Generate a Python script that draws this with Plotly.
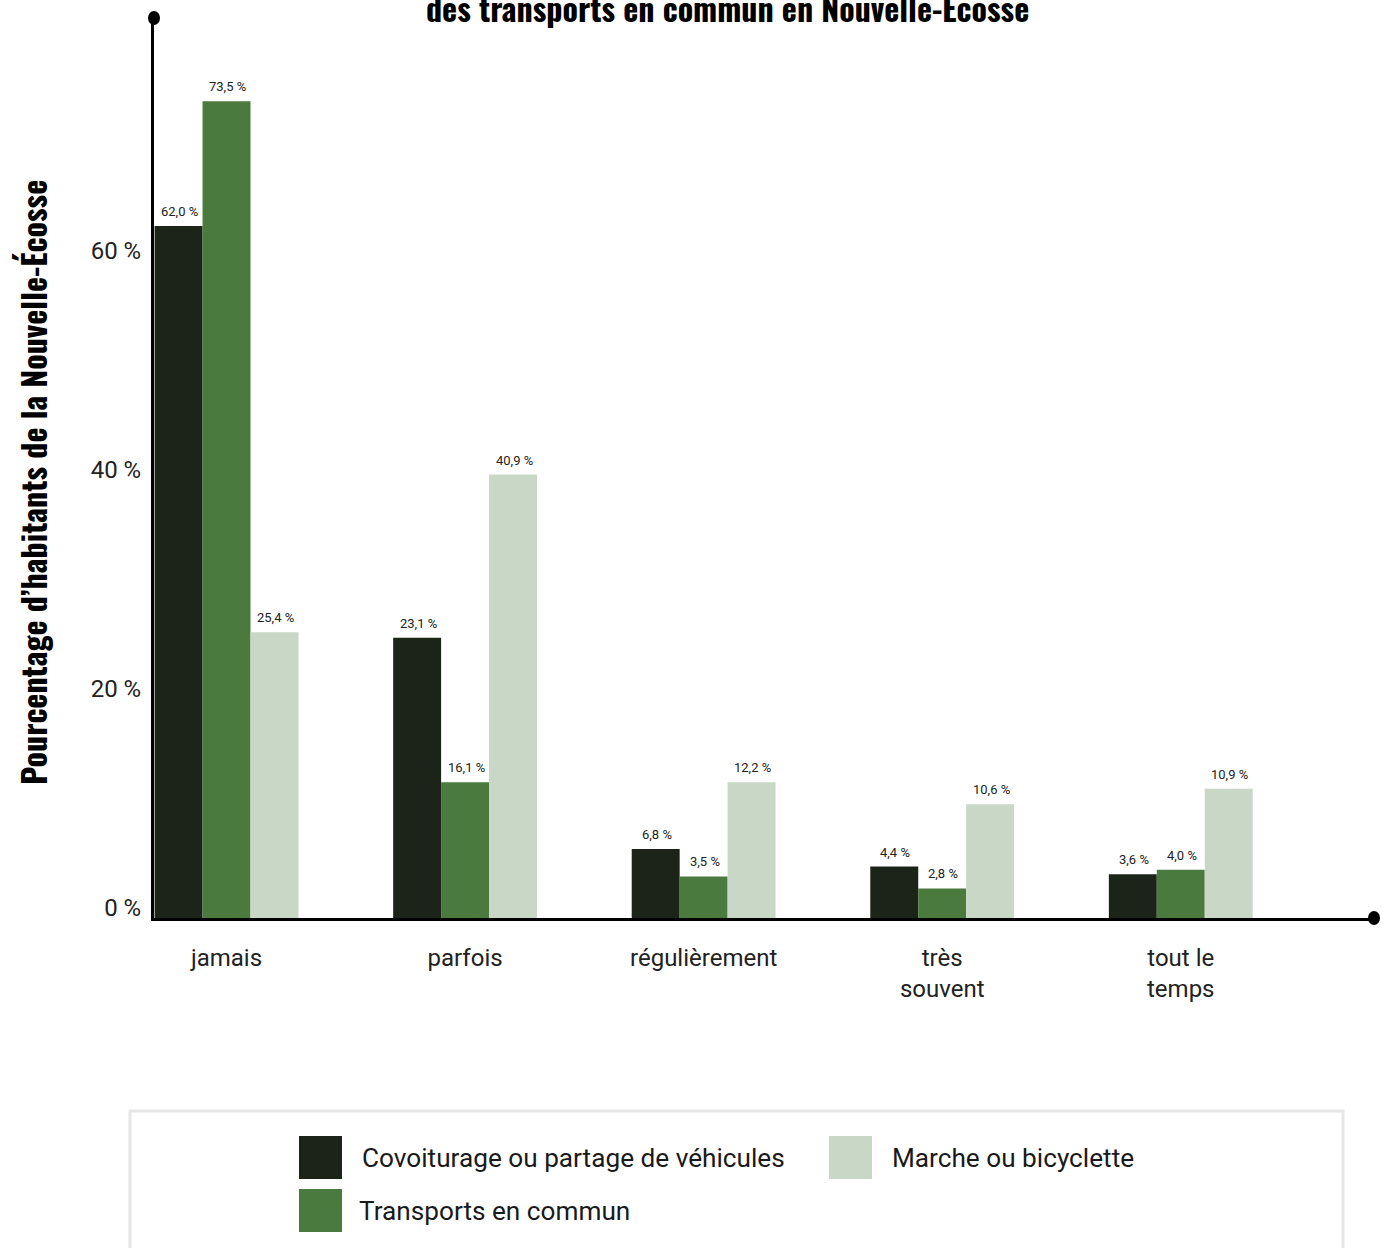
import plotly.graph_objects as go

# ---------------- data ----------------
categories = ["jamais", "parfois", "régulièrement", "très<br>souvent", "tout le<br>temps"]
series_names = ["Covoiturage ou partage de véhicules", "Transports en commun", "Marche ou bicyclette"]
colors = ["#1c2419", "#4a7a3e", "#c8d7c6"]

# bar heights as drawn in the picture (%)
covoiturage = [63.2, 25.6, 6.3, 4.7, 4.0]
transports = [74.6, 12.4, 3.8, 2.7, 4.4]
marche = [26.1, 40.5, 12.4, 10.4, 11.8]

# value labels printed above bars
covoiturage_labels = ["62,0 %", "23,1 %", "6,8 %", "4,4 %", "3,6 %"]
transports_labels = ["73,5 %", "16,1 %", "3,5 %", "2,8 %", "4,0 %"]
marche_labels = ["25,4 %", "40,9 %", "12,2 %", "10,6 %", "10,9 %"]

y_ticks = [0, 20, 40, 60]
y_tick_labels = ["0 %", "20 %", "40 %", "60 %"]

title_text = "des transports en commun en Nouvelle-Écosse"
y_title = "Pourcentage d’habitants de la Nouvelle-Écosse"

# ---------------- layout constants ----------------
W, H = 1383, 1248
L, R, T, B = 154, 9, 18, 330
PW, PH = W - L - R, H - T - B
x_range = [-0.304, 4.81]
y_range = [0, 82.2]
bargap = 0.397
cat_px = PW / (x_range[1] - x_range[0])
bar_px = cat_px * (1 - bargap) / 3

SANS = "Roboto, 'Noto Sans', Arial, sans-serif"
COND = "Oswald, 'Liberation Sans Narrow', 'DejaVu Sans Condensed', 'Roboto Condensed', sans-serif"


def px_x(px):
    return (px - L) / PW


def px_y(py):
    return (H - B - py) / PH


values = [covoiturage, transports, marche]
labels = [covoiturage_labels, transports_labels, marche_labels]

fig = go.Figure()
for name, vals, col in zip(series_names, values, colors):
    fig.add_trace(go.Bar(x=categories, y=vals, name=name, marker=dict(color=col, line=dict(width=0)),
                         showlegend=False, hoverinfo="skip"))

annotations = []
# value labels
for i, (vals, labs) in enumerate(zip(values, labels)):
    for cat, v, t in zip(categories, vals, labs):
        annotations.append(dict(x=cat, y=v, xref="x", yref="y", text=t, showarrow=False,
                                xshift=(i - 1) * bar_px + 1, yshift=5, yanchor="bottom", xanchor="center",
                                font=dict(family=SANS, size=13, color="#222222")))

# y-axis title
annotations.append(dict(x=px_x(33), y=px_y(483), xref="paper", yref="paper", text=y_title,
                        textangle=-90, showarrow=False, xanchor="center", yanchor="middle",
                        font=dict(family=COND, size=32, color="#000000", weight="bold")))
# top title (partly cut, as in the reference)
annotations.append(dict(x=px_x(727), y=px_y(7), xref="paper", yref="paper", text=title_text,
                        showarrow=False, xanchor="center", yanchor="middle",
                        font=dict(family=COND, size=32, color="#000000", weight="bold")))

shapes = []
# axis end dots
shapes.append(dict(type="circle", xref="paper", yref="paper", xsizemode="pixel", ysizemode="pixel",
                   xanchor=0, yanchor=1, x0=-6, x1=6, y0=-7, y1=7,
                   fillcolor="#000000", line=dict(width=0)))
shapes.append(dict(type="circle", xref="paper", yref="paper", xsizemode="pixel", ysizemode="pixel",
                   xanchor=1, yanchor=0, x0=-6, x1=6, y0=-7, y1=7,
                   fillcolor="#000000", line=dict(width=0)))

# legend box
shapes.append(dict(type="rect", xref="paper", yref="paper", x0=px_x(130), x1=px_x(1343),
                   y0=px_y(1111), y1=px_y(1275), line=dict(color="#e6e6e6", width=3),
                   fillcolor="rgba(0,0,0,0)", layer="below"))
legend_pos = [(299, 1136, 61), (299, 1189, 58), (829, 1136, 61)]
SW = 43
for (sx, sy, tx), name, col in zip(legend_pos, series_names, colors):
    shapes.append(dict(type="rect", xref="paper", yref="paper", x0=px_x(sx), x1=px_x(sx + SW),
                       y0=px_y(sy + SW), y1=px_y(sy), fillcolor=col, line=dict(width=0)))
    annotations.append(dict(x=px_x(sx + tx), y=px_y(sy + SW / 2), xref="paper", yref="paper",
                            text=name, showarrow=False, xanchor="left", yanchor="middle",
                            font=dict(family=SANS, size=26.2, color="#1a1a1a")))

fig.update_layout(
    width=W, height=H, autosize=False,
    margin=dict(l=L, r=R, t=T, b=B, pad=0),
    paper_bgcolor="white", plot_bgcolor="white",
    barmode="group", bargap=bargap, bargroupgap=0,
    annotations=annotations, shapes=shapes,
    xaxis=dict(type="category", range=x_range, showline=True, linecolor="#000000", linewidth=3,
               showgrid=False, zeroline=False, ticks="", ticklabelstandoff=16,
               tickfont=dict(family=SANS, size=24, color="#222222")),
    yaxis=dict(range=y_range, showline=True, linecolor="#000000", linewidth=3, showgrid=False,
               zeroline=False, ticks="", tickvals=y_ticks, ticktext=y_tick_labels,
               ticklabelstandoff=5, ticklabelshift=-10,
               tickfont=dict(family=SANS, size=24, color="#222222")),
    showlegend=False,
)

fig.write_html("out.html", config={"displayModeBar": False},
               post_script="document.body.style.margin='0';")
